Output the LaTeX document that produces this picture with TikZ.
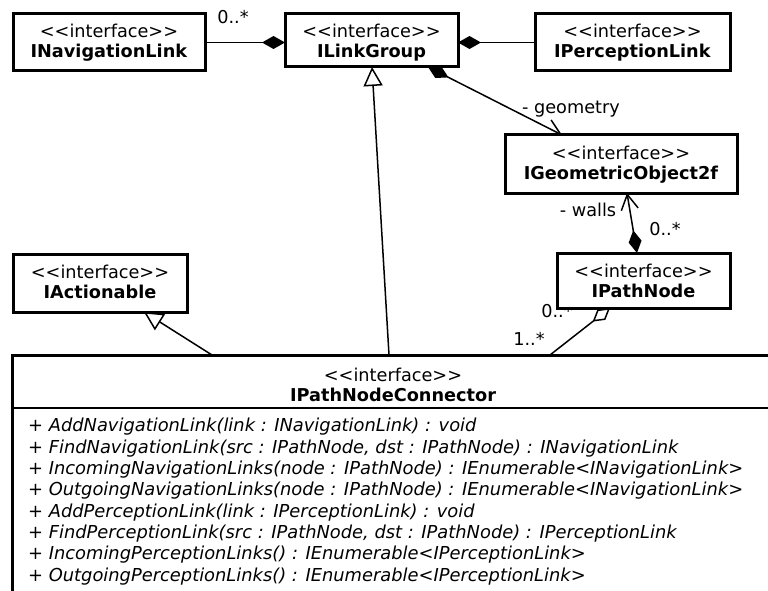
\documentclass[tikz,border=0pt]{standalone}
\usepackage{fontspec}
\setmainfont{DejaVu Sans}
\usetikzlibrary{arrows.meta}
\newcommand\umlfs{\fontsize{17.7}{20}\selectfont}
\newcommand\umlops{\fontsize{17.85}{21.3}\selectfont\itshape}
\newcommand\stereo{<\kern0pt<interface>\kern0pt>}
\begin{document}
\begin{tikzpicture}[x=1pt,y=-1pt,
  cls/.style={draw,line width=3pt,fill=white,align=center,font=\umlfs,
    inner xsep=0pt,inner ysep=0pt,text height=44pt,outer sep=0pt,anchor=north west},
  lbl/.style={font=\umlfs,inner sep=0pt},
  conn/.style={line width=1.5pt},
  comp/.style={conn,-{Diamond[length=23pt,width=13pt]}},
  aggr/.style={conn,-{Diamond[open,length=22pt,width=13pt]}},
  gen/.style={conn,-{Triangle[open,length=19pt,width=19pt]}},
  navcomp/.style={conn,{Diamond[length=23pt,width=13pt]}-{Straight Barb[length=15pt,width=17pt]}}]
\useasboundingbox (0,0) rectangle (768,591);
\fill[white] (0,0) rectangle (768,591);
% labels
\node[lbl] (l1) at (233,17) {0..*};
\node[lbl] (l2) at (571,109) {- geometry};
\node[lbl] (l3) at (588,210) {- walls};
\node[lbl] (l4) at (665,229) {0..*};
\node[lbl] (l5) at (557,311) {0..*};
\node[lbl] (l6) at (529,339) {1..*};
% classes
\node[cls,minimum width=192pt,text depth=13pt] (nav) at (13,14) {\stereo\\\textbf{INavigationLink}};
\node[cls,minimum width=173pt,text depth=9pt] (lg) at (285,14) {\stereo\\\textbf{ILinkGroup}};
\node[cls,minimum width=195pt,text depth=13pt] (perc) at (535,14) {\stereo\\\textbf{IPerceptionLink}};
\node[cls,minimum width=232pt,text depth=14pt] (geo) at (505,135) {\stereo\\\textbf{IGeometricObject2f}};
\node[cls,minimum width=173pt,text depth=11pt] (pn) at (557,253) {\stereo\\\textbf{IPathNode}};
\node[cls,minimum width=174pt,text depth=14pt] (act) at (13,254) {\stereo\\\textbf{IActionable}};
\node[cls,minimum width=762pt,text height=46pt,text depth=254pt] (pnc) at (12,355) {\stereo\\\textbf{IPathNodeConnector}};
\draw[line width=2pt] (pnc.north west |- 0,408) -- (pnc.north east |- 0,408);
\node[font=\umlops,align=left,anchor=base west,inner sep=0pt] (ops) at (28,581) {%
+ AddNavigationLink(link : INavigationLink) : void\\
+ FindNavigationLink(src : IPathNode, dst : IPathNode) : INavigationLink\\
+ IncomingNavigationLinks(node : IPathNode) : IEnumerable<INavigationLink>\\
+ OutgoingNavigationLinks(node : IPathNode) : IEnumerable<INavigationLink>\\
+ AddPerceptionLink(link : IPerceptionLink) : void\\
+ FindPerceptionLink(src : IPathNode, dst : IPathNode) : IPerceptionLink\\
+ IncomingPerceptionLinks() : IEnumerable<IPerceptionLink>\\
+ OutgoingPerceptionLinks() : IEnumerable<IPerceptionLink>};
% connectors
\draw[comp] (nav.east) -- (nav.east -| lg.west);
\draw[comp] (perc.west) -- (perc.west -| lg.east);
\draw[navcomp] ([xshift=143pt]lg.south west) -- ([xshift=57pt]geo.north west);
\draw[navcomp] ([xshift=80pt]pn.north west) -- ([xshift=122pt]geo.south west);
\draw[aggr] ([xshift=538pt]pnc.north west) -- ([xshift=53pt]pn.south west);
\draw[gen] ([xshift=200pt]pnc.north west) -- ([xshift=131pt]act.south west);
\draw[gen] ([xshift=377pt]pnc.north west) -- ([xshift=87pt]lg.south west);
\end{tikzpicture}
\end{document}
